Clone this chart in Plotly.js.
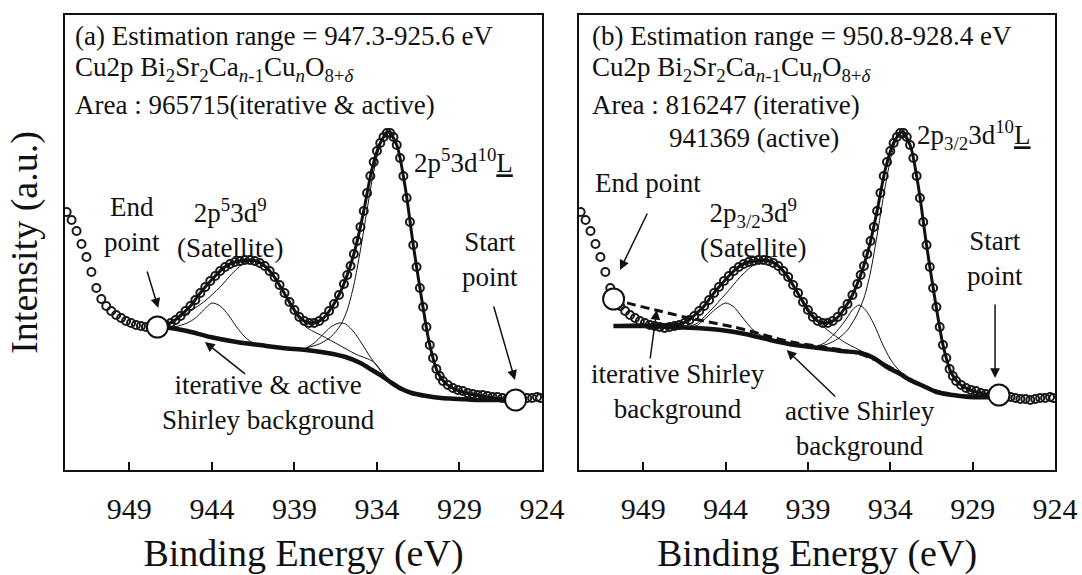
<!DOCTYPE html>
<html>
<head>
<meta charset="utf-8">
<script src="https://cdn.plot.ly/plotly-3.0.1.min.js"></script>
</head>
<body style="margin:0;padding:0;background:#fff">
<div id="chart" style="width:1082px;height:575px"></div>
<script>
// ---- measured spectrum (Cu2p, same data in both panels) ----
const energy = [
  952.8,952.5,952.2,951.9,951.6,951.3,951.0,950.7,950.4,950.1,
  949.8,949.5,949.2,948.9,948.6,948.3,948.0,947.7,947.4,947.1,
  946.8,946.5,946.2,945.9,945.6,945.3,945.0,944.7,944.4,944.1,
  943.8,943.5,943.2,942.9,942.6,942.3,942.0,941.7,941.4,941.1,
  940.8,940.5,940.2,939.9,939.6,939.3,939.0,938.7,938.4,938.1,
  937.8,937.5,937.2,936.9,936.6,936.3,936.0,
  935.8,935.6,935.4,935.2,935.0,
  934.8,934.6,934.4,934.2,934.0,
  933.8,933.6,933.4,933.2,933.0,
  932.8,932.6,932.4,932.2,932.0,
  931.8,931.6,931.4,931.2,931.0,
  930.8,930.6,930.4,930.2,930.0,
  929.7,929.4,929.1,928.8,928.5,928.2,927.9,927.6,927.3,927.0,
  926.7,926.4,926.1,925.8,925.5,925.2,924.9,924.6,924.3,924.1];
const intensity = [
  258,250,239,226,213,198,182,171,164,159,
  155,152,149,147,145,144,143,142,143,144,
  145,147,150,154,159,164,170,177,183,189,
  194,199,203,206,208,209,210,210,209,207,
  204,199,193,185,177,168,160,153,149,147,
  147,149,153,159,166,175,186,
  195,204,216,229,243,
  259,277,294,308,319,
  327,333,337,337,333,
  325,312,294,272,248,
  225,203,182,163,143,
  125,112,101,94,89,
  85,82,80,79,77,76,75,75,74,73,
  73,72,71,71,70,71,72,72,73,72];

// ---- panel (a): estimation range 947.3-925.6 eV ----
const pointsA_x = [947.3, 925.6];
const pointsA_y = [143, 70];
const bgA_x = [947.3,946.5,945.5,944.1,942.5,941.1,939.7,938.3,937.0,935.9,935.0,934.3,933.7,933.1,932.5,931.9,931.0,930.1,929.0,928.0,925.6];
const bgA_y = [143,142,139,133,128,125,122,120,117,113,107,100,94,87,81,77,74,72,71,70,70];
const envA_x = [947.3,946.8,946.3,945.8,945.3,944.8,944.3,943.8,943.3,942.8,942.3,941.8,941.3,940.8,940.3,939.8,939.3,938.8,938.3,937.8,937.3,936.8,936.3,935.8,935.3,934.8,934.3,933.8,933.3,932.8,932.3,931.8,931.3,930.8,930.3,929.8,929.3,928.8,928.3,927.3,926.3,925.6];
const envA_y = [143,145,149,156,164,175,185,194,202,207,209,210,209,204,195,182,168,155,148,147,151,161,175,195,222,259,301,327,338,325,284,225,172,125,97,86,81,78,76,73,71,70];
const satSmallA_x = [947.3,946.3,945.5,945.0,944.5,944.0,943.5,943.0,942.5,942.0,941.5,941.0];
const satSmallA_y = [143,143,147,152,160,167,164,155,143,133,127,125];
const satBroadA_x = [947.3,946.5,945.5,944.5,943.5,942.8,942.2,941.7,941.3,940.8,940.3,939.8,939.3,938.8,938.3,937.3,936.3,935.3,934.2,933.5,933.0];
const satBroadA_y = [143,148,157,168,183,196,205,209,208,203,194,181,166,153,143,134,125,116,108,94,87];
const mainSmallA_x = [938.6,938.3,937.8,937.3,936.8,936.3,935.9,935.4,934.9,934.4,934.0,933.6,933.2];
const mainSmallA_y = [121,122,127,135,143,147,146,138,126,113,104,96,89];
const mainBigA_x = [938.3,937.5,936.8,936.2,935.8,935.4,935.0,934.6,934.2,933.8,933.4,933.2,932.8,932.3,931.8,931.3,930.8,930.3,929.8,929.3,928.3,927.3,925.6];
const mainBigA_y = [122,126,133,145,160,185,220,260,298,325,336,337,325,284,225,172,125,97,86,80,75,72,70];

// ---- panel (b): estimation range 950.8-928.4 eV ----
const pointsB_x = [950.8, 927.4];
const pointsB_y = [171, 75];
const bgIterB_x = [950.8,949.0,947.3,945.8,944.3,942.8,941.3,939.8,938.3,937.0,935.8,935.0,934.2,933.5,932.8,932.0,931.2,930.2,929.2,927.4];
const bgIterB_y = [144,144,143,142,140,136,130,125,122,119,117,112,103,97,90,84,78,75,73,73];
const bgActiveB_x = [950.8,949.5,948.0,946.5,945.0,943.5,942.3,941.0,940.0,938.5,937.3,936.0,935.2,934.4,933.6,932.8,932.0,931.2,930.2,929.0,927.4];
const bgActiveB_y = [171,165,159,153,148,143,138,132,128,124,121,117,112,106,99,91,84,79,75,74,74];
const envB_x = [950.8,949.5,948.3,947.3,946.8,946.3,945.8,945.3,944.8,944.3,943.8,943.3,942.8,942.3,941.8,941.3,940.8,940.3,939.8,939.3,938.8,938.3,937.8,937.3,936.8,936.3,935.8,935.3,934.8,934.3,933.8,933.3,932.8,932.3,931.8,931.3,930.8,930.3,929.8,929.3,928.8,928.3,927.4];
const envB_y = [144,145,145,145,146,149,156,164,175,185,194,202,207,209,210,209,204,195,182,168,155,148,147,151,161,175,195,222,259,301,327,338,325,284,225,172,125,97,86,81,78,76,74];
const satSmallB_x = [946.4,945.8,945.2,944.6,944.0,943.5,943.0,942.5,942.0,941.5];
const satSmallB_y = [143,144,152,161,167,163,153,143,136,132];
const satBroadB_x = [946.4,945.8,945.0,944.0,943.0,942.3,941.6,941.0,940.4,939.8,939.2,938.6,938.1,937.5,936.8,936.0,935.3,934.5,933.8,933.2];
const satBroadB_y = [143,146,158,176,195,205,210,207,197,183,167,153,144,136,128,121,115,107,99,93];
const mainSmallB_x = [938.6,938.0,937.4,936.8,936.3,935.9,935.5,935.0,934.5,934.0,933.6,933.2];
const mainSmallB_y = [123,127,136,148,160,165,160,146,127,111,102,95];
const mainBigB_x = [938.4,937.8,937.2,936.6,936.1,935.6,935.2,934.8,934.4,934.0,933.7,933.4,933.2,932.8,932.3,931.8,931.3,930.8,930.3,929.8,929.3,928.3,927.4];
const mainBigB_y = [123,126,131,140,153,172,198,235,275,310,328,337,337,325,284,225,172,126,99,87,80,76,74];

const tickVals = [949, 944, 939, 934, 929, 924];
const tickText = ['949', '944', '939', '934', '929', '924'];

const FONT = 'Liberation Serif';
const INK = '#111';

function thin(x, y, xa, ya) {
  return {x: x, y: y, xaxis: xa, yaxis: ya, type: 'scatter', mode: 'lines',
    line: {color: INK, width: 1, shape: 'spline', smoothing: 0.8}, hoverinfo: 'skip'};
}
function thick(x, y, xa, ya, w, dash) {
  return {x: x, y: y, xaxis: xa, yaxis: ya, type: 'scatter', mode: 'lines',
    line: {color: INK, width: w, shape: 'spline', smoothing: 0.8, dash: dash || 'solid'}, hoverinfo: 'skip'};
}
function dataTrace(xa, ya) {
  return {x: energy, y: intensity, xaxis: xa, yaxis: ya, type: 'scatter', mode: 'markers',
    marker: {symbol: 'circle-open', size: 8, color: '#1a1a1a', line: {width: 2, color: '#1a1a1a'}}, hoverinfo: 'skip'};
}
function endpoints(x, y, xa, ya) {
  return {x: x, y: y, xaxis: xa, yaxis: ya, type: 'scatter', mode: 'markers',
    marker: {symbol: 'circle', size: 21, color: '#fff', line: {width: 2, color: INK}}, hoverinfo: 'skip'};
}

const traces = [
  dataTrace('x', 'y'),
  thin(satSmallA_x, satSmallA_y, 'x', 'y'),
  thin(satBroadA_x, satBroadA_y, 'x', 'y'),
  thin(mainSmallA_x, mainSmallA_y, 'x', 'y'),
  thin(mainBigA_x, mainBigA_y, 'x', 'y'),
  thick(bgA_x, bgA_y, 'x', 'y', 4.5),
  thick(envA_x, envA_y, 'x', 'y', 3),
  endpoints(pointsA_x, pointsA_y, 'x', 'y'),

  dataTrace('x2', 'y2'),
  thin(satSmallB_x, satSmallB_y, 'x2', 'y2'),
  thin(satBroadB_x, satBroadB_y, 'x2', 'y2'),
  thin(mainSmallB_x, mainSmallB_y, 'x2', 'y2'),
  thin(mainBigB_x, mainBigB_y, 'x2', 'y2'),
  thick(bgIterB_x, bgIterB_y, 'x2', 'y2', 4.5),
  thick(bgActiveB_x, bgActiveB_y, 'x2', 'y2', 3, '9px,5px'),
  thick(envB_x, envB_y, 'x2', 'y2', 3),
  endpoints(pointsB_x, pointsB_y, 'x2', 'y2')
];

function xAxis(domain, anchor) {
  return {
    domain: domain, anchor: anchor, range: [952.9, 924], autorange: false,
    showline: true, mirror: true, linecolor: INK, linewidth: 2,
    ticks: 'inside', ticklen: 8, tickwidth: 1.5, tickcolor: INK,
    tickmode: 'array', tickvals: tickVals, ticktext: tickText,
    tickfont: {family: FONT, size: 30}, ticklabelstandoff: 11,
    showgrid: false, zeroline: false,
    title: {text: 'Binding Energy (eV)', font: {family: FONT, size: 38}, standoff: 28}
  };
}
function yAxis(anchor, withTitle) {
  const ax = {
    anchor: anchor, range: [0, 455], autorange: false,
    showline: true, mirror: true, linecolor: INK, linewidth: 2,
    ticks: '', showticklabels: false, showgrid: false, zeroline: false
  };
  if (withTitle) ax.title = {text: 'Intensity (a.u.)', font: {family: FONT, size: 38}, standoff: 14};
  return ax;
}

const AF = {family: FONT, size: 27};
function txt(xref, yref, x, y, text, xanchor) {
  return {xref: xref, yref: yref, x: x, y: y, text: text, showarrow: false,
    xanchor: xanchor || 'center', yanchor: 'middle', align: 'center', font: AF};
}
function arrow(xref, yref, hx, hy, tx, ty) {
  return {xref: xref, yref: yref, axref: xref, ayref: yref, x: hx, y: hy, ax: tx, ay: ty,
    text: '', showarrow: true, arrowhead: 2, arrowsize: 1.3, arrowwidth: 1.5, arrowcolor: INK, standoff: 0};
}

const chem = 'Cu2p Bi<sub>2</sub>Sr<sub>2</sub>Ca<sub><i>n</i>-1</sub>Cu<sub><i>n</i></sub>O<sub>8+<i>δ</i></sub>';

const annotations = [
  // panel a
  txt('x', 'y', 952.42, 434, '(a) Estimation range = 947.3-925.6 eV', 'left'),
  txt('x', 'y', 952.42, 401, chem, 'left'),
  txt('x', 'y', 952.42, 365, 'Area : 965715(iterative &amp; active)', 'left'),
  txt('x', 'y', 931.9, 309, '2p<sup>5</sup>3d<sup>10</sup><u>L</u>', 'left'),
  txt('x', 'y', 948.86, 246, 'End<br>point'),
  txt('x', 'y', 942.9, 242, '2p<sup>5</sup>3d<sup>9</sup><br>(Satellite)'),
  txt('x', 'y', 927.15, 211, 'Start<br>point'),
  txt('x', 'y', 940.58, 68, 'iterative &amp; active<br>Shirley background'),
  arrow('x', 'y', 947.25, 162, 947.95, 200),
  arrow('x', 'y', 925.64, 90, 926.95, 165),
  arrow('x', 'y', 944.42, 128, 941.9, 95),
  // panel b
  txt('x2', 'y2', 952.23, 434, '(b) Estimation range = 950.8-928.4 eV', 'left'),
  txt('x2', 'y2', 952.23, 401, chem, 'left'),
  txt('x2', 'y2', 952.23, 365, 'Area : 816247 (iterative)', 'left'),
  txt('x2', 'y2', 947.58, 332, '941369 (active)', 'left'),
  txt('x2', 'y2', 932.5, 335, '2p<sub>3/2</sub>3d<sup>10</sup><u>L</u>', 'left'),
  txt('x2', 'y2', 948.69, 287, 'End point'),
  txt('x2', 'y2', 942.33, 242, '2p<sub>3/2</sub>3d<sup>9</sup><br>(Satellite)'),
  txt('x2', 'y2', 927.64, 212, 'Start<br>point'),
  txt('x2', 'y2', 946.87, 79, 'iterative Shirley<br>background'),
  txt('x2', 'y2', 935.84, 42, 'active Shirley<br>background'),
  arrow('x2', 'y2', 950.41, 200, 948.71, 258),
  arrow('x2', 'y2', 927.64, 92, 927.64, 167),
  arrow('x2', 'y2', 948.18, 160, 948.59, 110),
  arrow('x2', 'y2', 940.29, 120, 937.25, 72)
];

const layout = {
  width: 1082, height: 575,
  margin: {l: 0, r: 0, t: 15, b: 105, pad: 0},
  paper_bgcolor: '#fff', plot_bgcolor: '#fff',
  showlegend: false,
  font: {family: FONT, color: INK},
  xaxis: xAxis([65 / 1082, 542 / 1082], 'y'),
  yaxis: yAxis('x', true),
  xaxis2: xAxis([579 / 1082, 1055 / 1082], 'y2'),
  yaxis2: yAxis('x2', false),
  annotations: annotations
};

Plotly.newPlot('chart', traces, layout, {displayModeBar: false});
</script>
</body>
</html>
